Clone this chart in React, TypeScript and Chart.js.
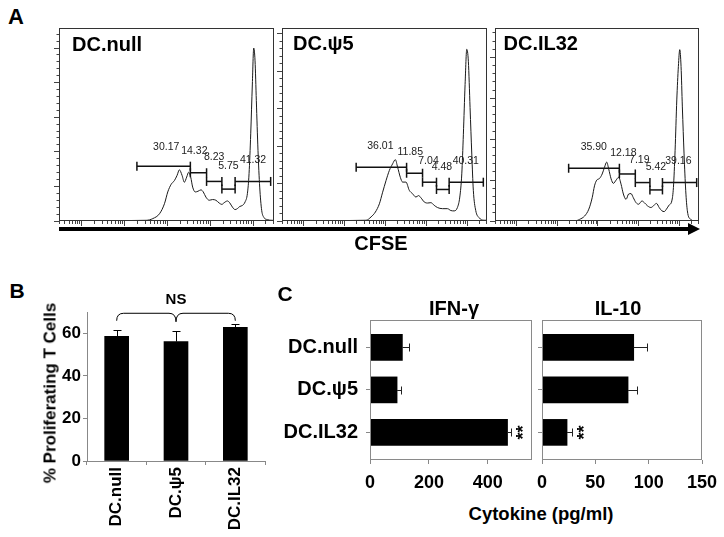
import React, { useEffect, useRef } from 'react';
import { Chart, registerables } from 'chart.js';

Chart.register(...registerables);

const FONT = "'Liberation Sans', Arial, Helvetica, sans-serif";

// ---------------- Panel A: CFSE histograms (x = log10 decades, y = relative events) ----------------
const nullX = [0.465, 2.504, 2.658, 2.814, 2.93, 3.007, 3.086, 3.163, 3.225, 3.279, 3.341, 3.395, 3.449, 3.496, 3.543, 3.589, 3.651, 3.713, 3.783, 3.837, 3.899, 3.977, 4.054, 4.132, 4.209, 4.271, 4.326, 4.403, 4.458, 4.519, 4.581, 4.636, 4.69, 4.752, 4.814, 4.868, 4.907, 4.946, 4.984, 5.016, 5.047, 5.077, 5.116, 5.156, 5.202, 5.256, 5.333, 5.45, 5.49];
const nullY = [0, 0.02, 0.07, 0.21, 0.5, 0.84, 1.06, 1.17, 1.32, 1.48, 1.32, 1.12, 1.27, 1.41, 1.27, 0.98, 0.84, 0.86, 0.9, 0.84, 0.69, 0.6, 0.62, 0.6, 0.52, 0.48, 0.53, 0.58, 0.52, 0.4, 0.33, 0.36, 0.42, 0.45, 0.55, 0.79, 1.37, 2.52, 3.96, 5.0, 4.63, 3.48, 2.04, 0.98, 0.31, 0.1, 0.04, 0.02, 0.02];
const nullGateStart = [2.286, 3.535, 3.914, 4.272, 4.581];
const nullGateEnd = [3.535, 3.914, 4.272, 4.581, 5.412];
const nullGateY = [1.585, 1.395, 1.144, 0.922, 1.144];
const nullGateText = ['30.17', '14.32', '8.23', '5.75', '41.32'];
const nullTextX = [2.97, 3.628, 4.093, 4.426, 5.0];
const nullTextY = [2.13, 2.02, 1.84, 1.58, 1.75];

const psiX = [0.465, 2.527, 2.649, 2.754, 2.852, 2.932, 3.015, 3.096, 3.177, 3.243, 3.299, 3.365, 3.421, 3.504, 3.585, 3.665, 3.748, 3.812, 3.871, 3.951, 4.032, 4.115, 4.195, 4.276, 4.398, 4.52, 4.603, 4.684, 4.765, 4.823, 4.872, 4.911, 4.953, 4.994, 5.033, 5.075, 5.117, 5.155, 5.214, 5.295, 5.417, 5.49];
const psiY = [0, 0.02, 0.11, 0.24, 0.46, 0.77, 1.08, 1.35, 1.53, 1.64, 1.44, 1.17, 1.04, 1.04, 0.82, 0.73, 0.64, 0.68, 0.62, 0.51, 0.48, 0.49, 0.42, 0.36, 0.33, 0.33, 0.28, 0.27, 0.36, 0.64, 1.26, 2.32, 3.65, 4.59, 4.27, 3.03, 1.79, 0.82, 0.28, 0.09, 0.02, 0.02];
const psiGateStart = [2.283, 3.519, 3.91, 4.252, 4.562];
const psiGateEnd = [3.519, 3.91, 4.252, 4.562, 5.4];
const psiGateY = [1.436, 1.277, 1.037, 0.843, 1.037];
const psiGateText = ['36.01', '11.85', '7.04', '4.48', '40.31'];
const psiTextX = [2.876, 3.609, 4.056, 4.384, 4.97];
const psiTextY = [1.995, 1.835, 1.596, 1.436, 1.596];

const il32X = [0.465, 2.303, 2.426, 2.548, 2.671, 2.776, 2.859, 2.916, 2.972, 3.039, 3.105, 3.161, 3.217, 3.266, 3.325, 3.382, 3.448, 3.512, 3.57, 3.627, 3.693, 3.757, 3.816, 3.872, 3.938, 4.002, 4.085, 4.142, 4.222, 4.306, 4.387, 4.443, 4.509, 4.575, 4.632, 4.688, 4.754, 4.82, 4.86, 4.901, 4.943, 4.982, 5.016, 5.048, 5.08, 5.122, 5.163, 5.203, 5.286, 5.409, 5.49];
const il32Y = [0, 0, 0, 0.04, 0.12, 0.29, 0.57, 0.86, 1.0, 1.04, 1.15, 1.31, 1.44, 1.27, 1.03, 0.92, 1.0, 1.07, 0.9, 0.66, 0.53, 0.66, 0.67, 0.57, 0.45, 0.41, 0.49, 0.45, 0.37, 0.33, 0.39, 0.43, 0.33, 0.25, 0.23, 0.29, 0.39, 0.49, 0.82, 1.72, 2.96, 3.78, 4.19, 3.78, 2.79, 1.64, 0.74, 0.25, 0.04, 0, 0];
const il32GateStart = [2.279, 3.529, 3.921, 4.281, 4.59];
const il32GateEnd = [3.529, 3.921, 4.281, 4.59, 5.433];
const il32GateY = [1.29, 1.15, 0.94, 0.76, 0.94];
const il32GateText = ['35.90', '12.18', '7.19', '5.42', '39.16'];
const il32TextX = [2.899, 3.627, 4.019, 4.428, 4.982];
const il32TextY = [1.81, 1.67, 1.48, 1.31, 1.46];

const X_MIN = 0.465;
const X_MAX = 5.49;
const decadeTicks = [1, 2, 3, 4, 5];
const minorMultipliers = [2, 3, 4, 5, 6, 7, 8, 9];

// ---------------- Panel B ----------------
const bCats = ['DC.null', 'DC.\u03C85', 'DC.IL32'];
const bVals = [58.6, 56.1, 62.8];
const bErr = [3.0, 5.0, 1.6];
const bTicks = [0, 10, 20, 30, 40, 50, 60, 70];

// ---------------- Panel C ----------------
const cCats = ['DC.null', 'DC.\u03C85', 'DC.IL32'];
const ifnVals = [110, 92, 467];
const ifnErr = [23, 12, 11];
const ifnSig = ['', '', '**'];
const ifnTicks = [0, 200, 400];
const il10Vals = [86, 80.7, 23.5];
const il10Err = [12.5, 8.3, 4.7];
const il10Sig = ['', '', '**'];
const il10Ticks = [0, 50, 100, 150];

const framePlugin = (color: string) => ({
  id: 'frame',
  afterDatasetsDraw(chart: any) {
    const { ctx, chartArea: a } = chart;
    ctx.save();
    ctx.strokeStyle = color;
    ctx.lineWidth = 1;
    const l = Math.round(a.left) + 0.5;
    const t = Math.round(a.top) + 0.5;
    const r = Math.round(a.right) - 0.5;
    const b = Math.round(a.bottom) - 0.5;
    ctx.strokeRect(l, t, r - l, b - t);
    ctx.restore();
  },
});

const tickAxis = (vals: number[], min: number, max: number, pos: string, weight: number, len: number, size: number) => ({
  type: 'linear',
  position: pos,
  weight,
  min,
  max,
  afterBuildTicks: (s: any) => {
    s.ticks = vals.map((v) => ({ value: v }));
  },
  ticks: { display: false },
  grid: { drawOnChartArea: false, drawTicks: true, tickLength: len, color: '#444', tickWidth: 1 },
  border: { display: false },
  afterFit: (s: any) => {
    if (pos === 'bottom') s.height = size;
    else s.width = size;
  },
});

function histConfig(p: any) {
  const minor: number[] = [];
  for (let d = 0; d <= 5; d++) {
    for (const m of minorMultipliers) {
      const v = d + Math.log10(m);
      if (v > X_MIN && v < X_MAX) minor.push(v);
    }
  }
  const yMajor: number[] = [];
  for (let v = 0; v <= p.yMax; v += 1) yMajor.push(v);
  const yMinor: number[] = [];
  for (let v = 0; v <= p.yMax + 1e-9; v += 0.2) yMinor.push(v);

  const curve = {
    data: p.xs.map((x: number, i: number) => ({ x, y: p.ys[i] })),
    borderColor: '#1a1a1a',
    borderWidth: 1,
    pointRadius: 0,
    cubicInterpolationMode: 'monotone',
  };
  const gates = p.gs.map((s: number, i: number) => ({
    data: [
      { x: s, y: p.gy[i] },
      { x: p.ge[i], y: p.gy[i] },
    ],
    borderColor: '#111',
    borderWidth: 1.5,
    pointStyle: 'line',
    pointRotation: 90,
    pointRadius: 4.5,
    pointBorderWidth: 1.5,
    pointBorderColor: '#111',
    pointBackgroundColor: '#111',
  }));
  return {
    type: 'line',
    data: { datasets: [curve, ...gates] },
    options: {
      animation: false,
      responsive: false,
      devicePixelRatio: 1,
      events: [],
      layout: { padding: { left: 0, right: p.padR, top: p.padT, bottom: 0 } },
      plugins: { legend: { display: false }, tooltip: { enabled: false } },
      scales: {
        xMinor: tickAxis(minor, X_MIN, X_MAX, 'bottom', 0, 3, 0),
        x: tickAxis(decadeTicks, X_MIN, X_MAX, 'bottom', 1, 5, 8),
        yMinor: tickAxis(yMinor, 0, p.yMax, 'left', 0, 2.5, 0),
        y: tickAxis(yMajor, 0, p.yMax, 'left', 1, 5, p.yw),
      },
    },
    plugins: [
      framePlugin('#333'),
      {
        id: 'gateLabels',
        afterDatasetsDraw(chart: any) {
          const { ctx } = chart;
          const xs = chart.scales.x;
          const ys = chart.scales.y;
          ctx.save();
          ctx.font = `10.5px ${FONT}`;
          ctx.fillStyle = '#222';
          ctx.textAlign = 'center';
          ctx.textBaseline = 'middle';
          p.labels.forEach((t: string, i: number) => {
            ctx.fillText(t, xs.getPixelForValue(p.lx[i]), ys.getPixelForValue(p.ly[i]));
          });
          ctx.restore();
        },
      },
    ],
  };
}

function bConfig() {
  return {
    type: 'bar',
    data: {
      labels: bCats,
      datasets: [{ data: bVals, backgroundColor: '#000', barThickness: 24 }],
    },
    options: {
      animation: false,
      responsive: false,
      devicePixelRatio: 1,
      events: [],
      layout: { padding: { left: 0, right: 10, top: 22, bottom: 0 } },
      plugins: { legend: { display: false }, tooltip: { enabled: false } },
      scales: {
        x: {
          ticks: { minRotation: 90, maxRotation: 90, font: { family: FONT, size: 17, weight: 'bold' }, color: '#000', padding: 2 },
          grid: { drawOnChartArea: false, tickLength: 4, color: '#888' },
          border: { color: '#888' },
          afterFit: (s: any) => {
            s.height = 76;
          },
        },
        y: {
          min: 0,
          max: 70,
          afterBuildTicks: (s: any) => {
            s.ticks = bTicks.map((v) => ({ value: v }));
          },
          ticks: {
            callback: (v: number) => (v % 20 === 0 ? String(v) : ''),
            font: { family: FONT, size: 17, weight: 'bold' },
            color: '#000',
            padding: 2,
          },
          grid: { drawOnChartArea: false, tickLength: 4, color: '#888' },
          border: { color: '#888' },
          afterFit: (s: any) => {
            s.width = 32;
          },
        },
      },
    },
    plugins: [
      {
        id: 'errorBars',
        afterDatasetsDraw(chart: any) {
          const { ctx } = chart;
          const ys = chart.scales.y;
          const meta = chart.getDatasetMeta(0);
          ctx.save();
          ctx.strokeStyle = '#000';
          ctx.lineWidth = 1;
          meta.data.forEach((bar: any, i: number) => {
            const top = Math.round(ys.getPixelForValue(bVals[i] + bErr[i])) + 0.5;
            const x = Math.round(bar.x) + 0.5;
            ctx.beginPath();
            ctx.moveTo(x, bar.y);
            ctx.lineTo(x, top);
            ctx.moveTo(x - 4, top);
            ctx.lineTo(x + 4, top);
            ctx.stroke();
          });
          // NS bracket spanning the three groups
          const xs = chart.scales.x;
          const x0 = xs.getPixelForValue(0);
          const xm = xs.getPixelForValue(1);
          const x2 = xs.getPixelForValue(2);
          const yTop = ys.getPixelForValue(69.4);
          const yEnd = ys.getPixelForValue(65.9);
          const yTip = ys.getPixelForValue(65.4);
          ctx.beginPath();
          ctx.moveTo(x0, yEnd);
          ctx.quadraticCurveTo(x0, yTop, x0 + 7, yTop);
          ctx.lineTo(xm - 7, yTop);
          ctx.quadraticCurveTo(xm, yTop, xm, yTip);
          ctx.quadraticCurveTo(xm, yTop, xm + 7, yTop);
          ctx.lineTo(x2 - 7, yTop);
          ctx.quadraticCurveTo(x2, yTop, x2, yEnd);
          ctx.stroke();
          ctx.font = `bold 15px ${FONT}`;
          ctx.fillStyle = '#000';
          ctx.textAlign = 'center';
          ctx.textBaseline = 'middle';
          ctx.fillText('NS', xm, yTop - 13);
          ctx.restore();
        },
      },
    ],
  };
}

function cConfig(vals: number[], errs: number[], sig: string[], ticks: number[], max: number, showCats: boolean, yWidth: number, padR: number) {
  return {
    type: 'bar',
    data: {
      datasets: [
        {
          data: vals.map((v, i) => ({ x: v, y: i })),
          backgroundColor: '#000',
          barThickness: 26,
        },
      ],
    },
    options: {
      indexAxis: 'y',
      animation: false,
      responsive: false,
      devicePixelRatio: 1,
      events: [],
      layout: { padding: { left: 0, right: padR, top: 25, bottom: 0 } },
      plugins: { legend: { display: false }, tooltip: { enabled: false } },
      scales: {
        x: {
          type: 'linear',
          min: 0,
          max,
          afterBuildTicks: (s: any) => {
            s.ticks = ticks.map((v) => ({ value: v }));
          },
          ticks: { font: { family: FONT, size: 18, weight: 'bold' }, color: '#000', padding: 8 },
          grid: { drawOnChartArea: false, tickLength: 4, color: '#888', offset: false },
          border: { display: false },
          afterFit: (s: any) => {
            s.height = 40;
          },
        },
        y: {
          type: 'linear',
          reverse: true,
          offset: false,
          min: -0.645,
          max: 2.65,
          afterBuildTicks: (s: any) => {
            s.ticks = cCats.map((_, i) => ({ value: i }));
          },
          ticks: {
            display: showCats,
            callback: (v: number) => cCats[v],
            font: { family: FONT, size: 20, weight: 'bold' },
            color: '#000',
            padding: 8,
          },
          grid: { drawOnChartArea: false, tickLength: 4, color: '#888', offset: false },
          border: { display: false },
          afterFit: (s: any) => {
            s.width = yWidth;
          },
        },
      },
    },
    plugins: [
      framePlugin('#8a8a8a'),
      {
        id: 'errorBars',
        afterDatasetsDraw(chart: any) {
          const { ctx } = chart;
          const xs = chart.scales.x;
          const meta = chart.getDatasetMeta(0);
          ctx.save();
          ctx.strokeStyle = '#222';
          ctx.lineWidth = 1;
          meta.data.forEach((bar: any, i: number) => {
            const end = Math.round(xs.getPixelForValue(vals[i] + errs[i])) + 0.5;
            const y = Math.round(bar.y) + 0.5;
            ctx.beginPath();
            ctx.moveTo(bar.x, y);
            ctx.lineTo(end, y);
            ctx.moveTo(end, y - 4);
            ctx.lineTo(end, y + 4);
            ctx.stroke();
            if (sig[i]) {
              ctx.save();
              ctx.translate(end + 11, bar.y);
              ctx.rotate(-Math.PI / 2);
              ctx.font = `bold 18px ${FONT}`;
              ctx.fillStyle = '#000';
              ctx.textAlign = 'center';
              ctx.textBaseline = 'middle';
              ctx.fillText(sig[i], 0, 2);
              ctx.restore();
            }
          });
          ctx.restore();
        },
      },
    ],
  };
}

function ChartBox({ left, top, width, height, make }: any) {
  const ref = useRef<HTMLCanvasElement>(null);
  useEffect(() => {
    const chart = new Chart(ref.current as HTMLCanvasElement, make());
    return () => chart.destroy();
  }, []);
  return (
    <canvas
      ref={ref}
      width={width}
      height={height}
      style={{ position: 'absolute', left, top, width, height, display: 'block' }}
    />
  );
}

function T({ x, y, size, children, anchor = 'center', rotate = 0, weight = 700 }: any) {
  const tx = anchor === 'left' ? '0' : '-50%';
  return (
    <div
      style={{
        position: 'absolute',
        left: x,
        top: y,
        transform: `translate(${tx}, -50%) rotate(${rotate}deg)`,
        fontFamily: FONT,
        fontSize: size,
        fontWeight: weight,
        lineHeight: 1,
        whiteSpace: 'nowrap',
        color: '#000',
      }}
    >
      {children}
    </div>
  );
}

export default function App() {
  return (
    <div
      style={{
        position: 'fixed',
        left: 0,
        top: 0,
        width: 724,
        height: 537,
        background: '#fff',
        overflow: 'hidden',
      }}
    >
      {/* Panel A */}
      <ChartBox
        left={49}
        top={22}
        width={231}
        height={207}
        make={() =>
          histConfig({ xs: nullX, ys: nullY, yMax: 5.58, padT: 5, padR: 5, yw: 10, gs: nullGateStart, ge: nullGateEnd, gy: nullGateY, labels: nullGateText, lx: nullTextX, ly: nullTextY })
        }
      />
      <ChartBox
        left={272}
        top={22}
        width={221}
        height={207}
        make={() =>
          histConfig({ xs: psiX, ys: psiY, yMax: 5.16, padT: 5, padR: 5, yw: 10, gs: psiGateStart, ge: psiGateEnd, gy: psiGateY, labels: psiGateText, lx: psiTextX, ly: psiTextY })
        }
      />
      <ChartBox
        left={485}
        top={22}
        width={220}
        height={207}
        make={() =>
          histConfig({ xs: il32X, ys: il32Y, yMax: 4.72, padT: 6, padR: 5, yw: 10, gs: il32GateStart, ge: il32GateEnd, gy: il32GateY, labels: il32GateText, lx: il32TextX, ly: il32TextY })
        }
      />
      <T x={16} y={17} size={22}>A</T>
      <T x={72} y={43.5} size={20} anchor="left">DC.null</T>
      <T x={293} y={43} size={20} anchor="left">DC.{'\u03C8'}5</T>
      <T x={503.5} y={43} size={20} anchor="left">DC.IL32</T>
      <div style={{ position: 'absolute', left: 59, top: 227, width: 631, height: 4, background: '#000' }} />
      <div
        style={{
          position: 'absolute',
          left: 688,
          top: 222.5,
          width: 0,
          height: 0,
          borderLeft: '12px solid #000',
          borderTop: '6.5px solid transparent',
          borderBottom: '6.5px solid transparent',
        }}
      />
      <T x={381} y={243} size={20}>CFSE</T>

      {/* Panel B */}
      <ChartBox left={55} top={290} width={220} height={247} make={bConfig} />
      <T x={17} y={290} size={21}>B</T>
      <T x={50} y={393} size={17} rotate={-90}>% Proliferating T Cells</T>

      {/* Panel C */}
      <ChartBox
        left={275}
        top={295}
        width={261}
        height={205}
        make={() => cConfig(ifnVals, ifnErr, ifnSig, ifnTicks, 550, true, 95, 4)}
      />
      <ChartBox
        left={528}
        top={295}
        width={202}
        height={205}
        make={() => cConfig(il10Vals, il10Err, il10Sig, il10Ticks, 150, false, 14, 28)}
      />
      <T x={285} y={293} size={21}>C</T>
      <T x={454} y={308} size={20}>IFN-{'\u03B3'}</T>
      <T x={618} y={308} size={20}>IL-10</T>
      <T x={541} y={514} size={18.5}>Cytokine (pg/ml)</T>
    </div>
  );
}
